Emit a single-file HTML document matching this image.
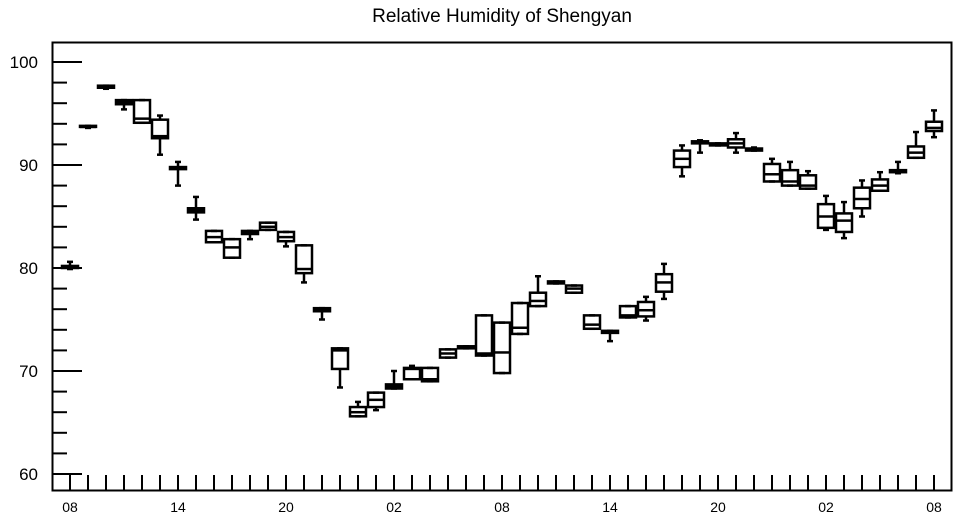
<!DOCTYPE html>
<html><head><meta charset="utf-8"><style>
body{margin:0;background:#fff;}
svg{display:block;font-family:"Liberation Sans",Helvetica,Arial,sans-serif;}
</style></head><body>
<svg id="chart" width="957" height="520" viewBox="0 0 957 520">
<text x="502" y="22" text-anchor="middle" font-size="19">Relative Humidity of Shengyan</text>
<g id="grid"></g>
<rect x="52.5" y="42.5" width="899" height="448" fill="none" stroke="#000" stroke-width="2"/>
<g id="marks"></g>
</svg>
<script>
const xLabels=["08","14","20","02","08","14","20","02","08"];
const yTicks=[60,70,80,90,100];
const mins=[79.9,93.6,97.4,95.4,94.1,91.0,88.0,84.7,82.5,81.0,82.8,83.7,82.1,78.6,75.0,68.4,65.6,66.2,68.3,69.2,69.0,71.3,72.2,71.5,69.8,73.6,76.3,78.5,77.6,74.1,72.9,75.2,74.9,77.0,88.9,91.2,91.9,91.2,91.4,88.4,88.0,87.7,83.7,82.9,85.0,87.5,89.2,90.7,92.7];
const q1s=[80.0,93.7,97.5,95.9,94.1,92.6,89.6,85.4,82.5,81.0,83.3,83.7,82.6,79.5,75.8,70.2,65.6,66.5,68.3,69.2,69.0,71.3,72.2,71.5,69.8,73.6,76.3,78.5,77.6,74.1,73.7,75.2,75.3,77.7,89.8,92.1,91.9,91.7,91.4,88.4,88.0,87.7,83.9,83.5,85.8,87.5,89.3,90.7,93.3];
const meds=[80.1,93.7,97.6,96.1,94.5,92.8,89.7,85.6,83.0,82.0,83.5,84.0,83.0,79.9,76.0,72.0,66.0,67.2,68.5,70.2,69.2,71.7,72.3,71.7,71.8,74.2,76.8,78.6,78.0,74.5,73.8,75.4,75.9,78.6,90.6,92.2,92.0,92.1,91.5,89.1,88.4,88.0,85.0,84.6,86.7,88.0,89.4,91.2,93.6];
const q3s=[80.2,93.8,97.7,96.3,96.3,94.4,89.8,85.8,83.6,82.8,83.6,84.4,83.5,82.2,76.1,72.2,66.5,67.9,68.7,70.3,70.3,72.1,72.4,75.4,74.7,76.6,77.6,78.7,78.3,75.4,73.9,76.3,76.7,79.4,91.4,92.3,92.1,92.5,91.6,90.1,89.5,89.0,86.2,85.3,87.8,88.6,89.5,91.8,94.2];
const maxs=[80.6,93.8,97.7,96.3,96.3,94.8,90.3,86.9,83.6,82.8,83.6,84.4,83.5,82.2,76.1,72.2,67.0,67.9,70.0,70.5,70.3,72.1,72.4,75.4,74.7,76.6,79.2,78.7,78.3,75.4,73.9,76.3,77.2,80.4,91.9,92.4,92.1,93.1,91.7,90.6,90.3,89.4,87.0,86.4,88.5,89.3,90.3,93.2,95.3];
const NS="http://www.w3.org/2000/svg";
const yS=v=>474-(v-60)*10.3;
const xS=i=>70+18*i;
function mk(tag,attrs,parent){const e=document.createElementNS(NS,tag);for(const k in attrs)e.setAttribute(k,attrs[k]);parent.appendChild(e);return e;}
const grid=document.getElementById('grid'),marks=document.getElementById('marks');
// y ticks
for(let v=58;v<=102;v+=2){
  const y=yS(v); if(y<43||y>490)continue;
  const major=v%10===0;
  const t=mk('line',{x1:52,x2:major?82:67,y1:y,y2:y,stroke:'#000','stroke-width':2},grid);
  
  
}
yTicks.forEach(v=>{
  const t=mk('text',{x:38,y:yS(v)+6,'text-anchor':'end','font-size':17},grid);
  t.textContent=v;
  
  
});
// x ticks
for(let i=0;i<49;i++){
  const t=mk('line',{x1:xS(i),x2:xS(i),y1:491,y2:475,stroke:'#000','stroke-width':2},grid);
  
  
}
xLabels.forEach((l,k)=>{
  const t=mk('text',{x:xS(k*6),y:512,'text-anchor':'middle','font-size':14},grid);
  t.textContent=l;
  
  
});
// boxes
for(let i=0;i<mins.length;i++){
  const g=mk('g',{},marks);
  
  
  const x=xS(i),w=8,st={stroke:'#000','stroke-width':2.5,fill:'none'};
  mk('line',Object.assign({x1:x,x2:x,y1:yS(maxs[i]),y2:yS(q3s[i])},st),g);
  mk('line',Object.assign({x1:x,x2:x,y1:yS(q1s[i]),y2:yS(mins[i])},st),g);
  mk('line',Object.assign({x1:x-3,x2:x+3,y1:yS(maxs[i]),y2:yS(maxs[i])},st),g);
  mk('line',Object.assign({x1:x-3,x2:x+3,y1:yS(mins[i]),y2:yS(mins[i])},st),g);
  const top=yS(q3s[i]),bot=yS(q1s[i]);
  mk('rect',Object.assign({x:x-w,y:top,width:2*w,height:Math.max(bot-top,1)},st),g);
  mk('line',Object.assign({x1:x-w,x2:x+w,y1:yS(meds[i]),y2:yS(meds[i])},st),g);
}
</script>
</body></html>
